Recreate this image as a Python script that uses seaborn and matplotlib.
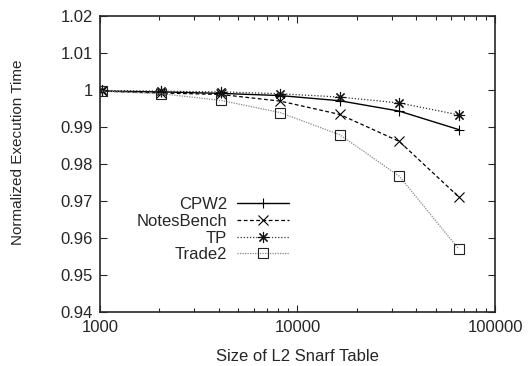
import numpy as np
import pandas as pd
import seaborn as sns
import matplotlib
matplotlib.use("Agg")
import matplotlib.pyplot as plt
from matplotlib.ticker import FuncFormatter, FixedLocator

sizes = [1024, 2048, 4096, 8192, 16384, 32768, 65536]
cpw2 = [0.9997, 0.9995, 0.9991, 0.9985, 0.9971, 0.9943, 0.9893]
notesbench = [0.9997, 0.9992, 0.9988, 0.9970, 0.9934, 0.9861, 0.9711]
tp = [0.9999, 0.9997, 0.9995, 0.9990, 0.9981, 0.9965, 0.9933]
trade2 = [0.9997, 0.9990, 0.9972, 0.9939, 0.9879, 0.9767, 0.9570]
names = ["CPW2", "NotesBench", "TP", "Trade2"]

df = pd.DataFrame({
    "size": sizes * 4,
    "time": cpw2 + notesbench + tp + trade2,
    "bench": [n for n in names for _ in sizes],
})

sns.set_style("ticks")
plt.rcParams["font.family"] = ["Liberation Sans", "DejaVu Sans"]
fs = 12

fig = plt.figure(figsize=(5.28, 3.66), dpi=100)
ax = fig.add_axes([0.189, 0.148, 0.7485, 0.808])

styles = {
    "CPW2": dict(color="black", linestyle="-", marker="+", ms=7, lw=1.0, mec="black"),
    "NotesBench": dict(color="black", linestyle=(0, (3, 2)), marker="x", ms=7, lw=0.9, mec="black"),
    "TP": dict(color="#333333", linestyle=(0, (1, 1.5)), marker=(8, 2, 0), ms=8, lw=0.9,
               mec="#111111"),
    "Trade2": dict(color="#888888", linestyle=(0, (1, 1)), marker="s", ms=7, lw=0.9,
                   mfc="none", mec="#222222"),
}

for name in names:
    st = dict(styles[name])
    sns.lineplot(data=df[df["bench"] == name], x="size", y="time", ax=ax,
                 label=name, markeredgewidth=0.8, **st)

ax.set_xscale("log")
ax.set_xlim(1000, 100000)
ax.set_ylim(0.94, 1.02)
ax.yaxis.set_major_locator(FixedLocator(np.arange(0.94, 1.0201, 0.01)))
ax.yaxis.set_major_formatter(FuncFormatter(lambda v, p: "%g" % round(v, 2)))
ax.xaxis.set_major_formatter(FuncFormatter(lambda v, p: "%d" % v))
ax.tick_params(which="both", direction="in", top=True, right=True, labelsize=fs)
ax.tick_params(which="major", length=5, width=0.8)
ax.tick_params(which="minor", length=3, width=0.8)
ax.tick_params(axis="x", pad=6)
ax.tick_params(axis="y", pad=5)
for s in ax.spines.values():
    s.set_linewidth(1.2)

ax.set_xlabel("Size of L2 Snarf Table", fontsize=fs, labelpad=10)
ax.set_ylabel("Normalized Execution Time", fontsize=11)
ax.yaxis.set_label_coords(-0.188, 0.54)

ax.legend(loc="lower left", bbox_to_anchor=(0.063, 0.128), frameon=False,
          markerfirst=False, handlelength=3.1, labelspacing=0.1,
          handletextpad=0.6, borderaxespad=0.3, fontsize=fs)

plt.savefig("out.png", dpi=100)
